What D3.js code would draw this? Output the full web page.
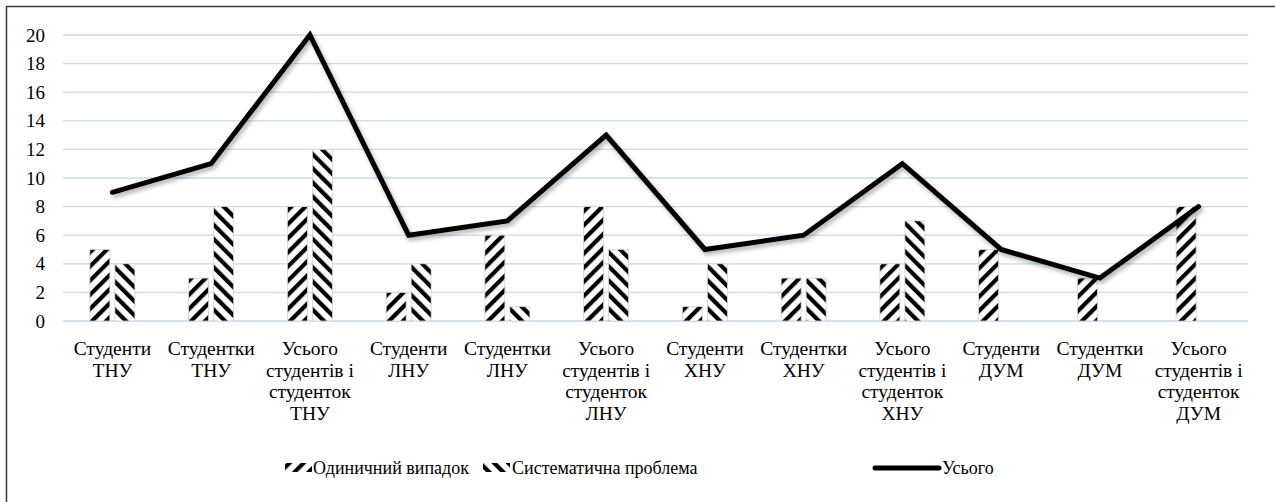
<!DOCTYPE html>
<html>
<head>
<meta charset="utf-8">
<script src="https://cdn.jsdelivr.net/npm/d3@7"></script>
<style>
  body { margin: 0; background: #fff; }
</style>
</head>
<body>
<svg width="1275" height="502"></svg>
<script>
// Data
var categories = [
    "Студенти\nТНУ", "Студентки\nТНУ", "Усього\nстудентів і\nстуденток\nТНУ",
    "Студенти\nЛНУ", "Студентки\nЛНУ", "Усього\nстудентів і\nстуденток\nЛНУ",
    "Студенти\nХНУ", "Студентки\nХНУ", "Усього\nстудентів і\nстуденток\nХНУ",
    "Студенти\nДУМ", "Студентки\nДУМ", "Усього\nстудентів і\nстуденток\nДУМ"
];
var single = [5, 3, 8, 2, 6, 8, 1, 3, 4, 5, 3, 8];
var systematic = [4, 8, 12, 4, 1, 5, 4, 3, 7, 0, 0, 0];
var total = [9, 11, 20, 6, 7, 13, 5, 6, 11, 5, 3, 8];
var seriesNames = ["Одиничний випадок", "Систематична проблема", "Усього"];
var yTicks = [0, 2, 4, 6, 8, 10, 12, 14, 16, 18, 20];

var svg = d3.select("svg"),
    width = +svg.attr("width"),
    height = +svg.attr("height");

var FONT = "'Liberation Serif', 'Times New Roman', serif";

var defs = svg.append("defs");

// stripe patterns: "/" for single, "\" for systematic
function stripes(id, angle) {
    var p = defs.append("pattern")
        .attr("id", id)
        .attr("patternUnits", "userSpaceOnUse")
        .attr("width", 10)
        .attr("height", 10)
        .attr("patternTransform", "rotate(" + angle + ")");
    p.append("rect").attr("width", 10).attr("height", 10).attr("fill", "#fff");
    p.append("rect").attr("width", 4.2).attr("height", 10).attr("fill", "#000");
}
stripes("up", 45);
stripes("down", -45);

var shadow = defs.append("filter").attr("id", "shadow")
    .attr("x", "-5%").attr("y", "-10%").attr("width", "110%").attr("height", "130%");
shadow.append("feDropShadow")
    .attr("dx", 2).attr("dy", 3).attr("stdDeviation", 2)
    .attr("flood-color", "#000").attr("flood-opacity", 0.3);

// frame (right/bottom edges fall outside the view)
svg.append("rect")
    .attr("x", 6.5).attr("y", 6.5)
    .attr("width", 1320).attr("height", 600)
    .attr("fill", "none")
    .attr("stroke", "#3a3a3a")
    .attr("stroke-width", 1.5);

var x0 = d3.scaleBand()
    .domain(d3.range(categories.length))
    .range([63, 1248])
    .padding(0);

var x1 = d3.scaleBand()
    .domain([0, 1])
    .range([0, 45])
    .paddingInner(0.2);

var y = d3.scaleLinear()
    .domain([0, 20])
    .range([321, 35]);

// gridlines
svg.append("g")
    .selectAll("line")
    .data(yTicks)
    .enter()
    .append("line")
    .attr("x1", 63).attr("x2", 1248)
    .attr("y1", function (d) { return y(d); })
    .attr("y2", function (d) { return y(d); })
    .style("stroke", "#c9d9ee")
    .style("stroke-width", 1.3);

// y tick labels
svg.append("g")
    .selectAll("text")
    .data(yTicks)
    .enter()
    .append("text")
    .attr("x", 45)
    .attr("y", function (d) { return y(d) + 6.5; })
    .attr("text-anchor", "end")
    .attr("font-family", FONT)
    .attr("font-size", 19)
    .text(function (d) { return d; });

// bars
var barSeries = [single, systematic];
var fills = ["url(#up)", "url(#down)"];
var off = (x0.bandwidth() - 45) / 2;
barSeries.forEach(function (vals, s) {
    svg.append("g")
        .selectAll("rect")
        .data(vals.map(function (v, i) { return {v: v, i: i}; })
            .filter(function (d) { return d.v > 0; }))
        .enter()
        .append("rect")
        .attr("x", function (d) { return x0(d.i) + off + x1(s); })
        .attr("y", function (d) { return y(d.v); })
        .attr("width", x1.bandwidth())
        .attr("height", function (d) { return y(0) - y(d.v); })
        .attr("fill", fills[s])
        .attr("stroke", "#d4d4d4")
        .attr("stroke-width", 0.8);
});

// total line
var line = d3.line()
    .x(function (d, i) { return x0(i) + x0.bandwidth() / 2; })
    .y(function (d) { return y(d); });

svg.append("path")
    .datum(total)
    .attr("d", line)
    .attr("fill", "none")
    .attr("stroke", "#000")
    .attr("stroke-width", 5)
    .attr("stroke-linejoin", "miter")
    .attr("stroke-linecap", "round")
    .attr("filter", "url(#shadow)");

// x labels
var labels = svg.append("g")
    .selectAll("text")
    .data(categories)
    .enter()
    .append("text")
    .attr("text-anchor", "middle")
    .attr("font-family", FONT)
    .attr("font-size", 19.5)
    .attr("transform", function (d, i) {
        return "translate(" + (x0(i) + x0.bandwidth() / 2) + ",355)";
    });
labels.selectAll("tspan")
    .data(function (d) { return d.split("\n"); })
    .enter()
    .append("tspan")
    .attr("x", 0)
    .attr("y", function (d, j) { return j * 21.7; })
    .text(function (d) { return d; });

// legend
var legY = 468;
var leg = svg.append("g").attr("font-family", FONT).attr("font-size", 18);
leg.append("rect").attr("x", 285).attr("y", legY - 5).attr("width", 27).attr("height", 9).attr("fill", "url(#up)");
leg.append("text").attr("x", 313).attr("y", legY + 6).text(seriesNames[0]);
leg.append("rect").attr("x", 483).attr("y", legY - 5).attr("width", 27).attr("height", 9).attr("fill", "url(#down)");
leg.append("text").attr("x", 512).attr("y", legY + 6).text(seriesNames[1]);
leg.append("line").attr("x1", 875).attr("x2", 939).attr("y1", legY).attr("y2", legY)
    .attr("stroke", "#000").attr("stroke-width", 5).attr("stroke-linecap", "round");
leg.append("text").attr("x", 942).attr("y", legY + 6).text(seriesNames[2]);
</script>
</body>
</html>
